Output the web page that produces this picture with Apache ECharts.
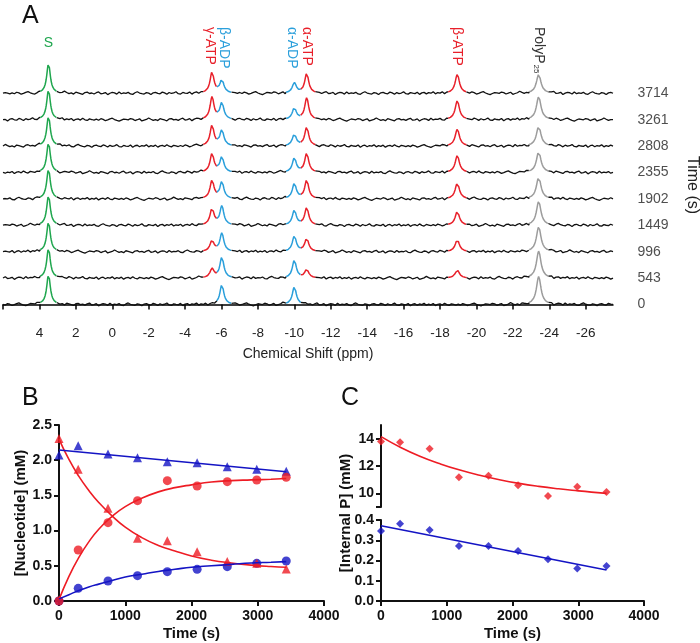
<!DOCTYPE html>
<html><head><meta charset="utf-8">
<script src="https://cdn.jsdelivr.net/npm/echarts@6/dist/echarts.min.js"></script>
<style>html,body{margin:0;padding:0;background:#fff}#c{width:700px;height:643px}</style>
</head><body><div id="c"></div>
<script>
// ---------------- Panel A data ----------------
const traceTimes = [0, 543, 996, 1449, 1902, 2355, 2808, 3261, 3714];
const shiftTickLabels = [4, 2, 0, -2, -4, -6, -8, -10, -12, -14, -16, -18, -20, -22, -24, -26];
const peakNames = ['S', 'γ-ATP', 'β-ADP', 'α-ADP', 'α-ATP', 'β-ATP', 'PolyP'];
const peakShifts = [3.5, -5.48, -6.02, -10.0, -10.68, -18.95, -23.42];
const peakHalfWidths = [0.12, 0.13, 0.13, 0.13, 0.13, 0.14, 0.15];
const peakWindows = [[3.95, 3.05], [-5.0, -5.75], [-5.75, -6.55], [-9.55, -10.35], [-10.35, -11.15], [-18.45, -19.45], [-22.9, -23.95]];
// peak heights per trace (bottom trace t=0 first), in picture pixels
const heightS = [30, 30, 30, 30, 30, 30, 30, 30, 30];
const heightGammaATP = [0, 9, 11, 16.7, 18.3, 18.7, 20.7, 22.3, 21];
const heightBetaADP = [20, 21, 18.3, 19, 17, 15.3, 15.7, 16.7, 13.3];
const heightAlphaADP = [18, 18, 15.7, 15, 15.3, 14.3, 11.7, 11.7, 10.3];
const heightAlphaATP = [0, 8.5, 13.3, 17.7, 18.7, 19.3, 19, 21.7, 20];
const heightBetaATP = [0, 8, 12, 14, 16, 17, 17, 19, 19];
const heightPolyP = [28, 27, 25, 24, 22, 21, 20, 23, 19];
// baseline noise pattern estimated from the traces (pixels)
const baselineNoise = [0.4,-0.6,0.9,0.2,-1.1,-0.3,0.7,1.4,0.1,-0.8,-1.5,-0.4,0.6,0.3,-0.2,1.1,0.5,-0.9,-0.1,0.8,-1.3,-0.5,0.2,1.6,0.4,-0.7,0.1,-1.0,0.9,0.3,-0.4,-1.2,0.6,1.0,-0.3,0.2,-0.8,0.5,1.3,-0.6,-0.2,0.7,-1.4,0.0,0.8,0.4,-0.9,1.2,-0.5,0.3,-0.1,0.9,-0.7,-1.1,0.5,1.5,0.2,-0.4,-0.8,0.6,0.1,-1.3,0.4,0.9,-0.2,-0.6,1.1,0.3,-1.0,0.7,-0.3,0.2,1.4,-0.5,-0.9,0.6,0.0,-0.4,1.0,-1.2,0.3,0.8,-0.7,0.5,-0.1,1.2,-0.8,0.4,-0.3,0.9,-1.1,0.2,0.6,-0.5,1.3,-0.2,-0.9,0.7,0.1,-0.6];

// ---------------- Panel B data ----------------
const timesB = [0, 290, 740, 1185, 1635, 2085, 2540, 2985, 3430];
const redTriangles = [2.31, 1.87, 1.316, 0.89, 0.857, 0.70, 0.56, 0.535, 0.455];
const blueTriangles = [2.074, 2.206, 2.088, 2.036, 1.979, 1.965, 1.908, 1.87, 1.842];
const redCircles = [0.0, 0.724, 1.113, 1.425, 1.709, 1.633, 1.695, 1.719, 1.757];
const blueCircles = [0.0, 0.18, 0.284, 0.36, 0.417, 0.45, 0.488, 0.535, 0.568];
const fitBTimes = [0, 150, 300, 450, 600, 800, 1000, 1250, 1500, 1750, 2000, 2300, 2600, 2900, 3200, 3430];
const fitRedDecay = [2.30, 2.01, 1.77, 1.57, 1.40, 1.21, 1.05, 0.90, 0.79, 0.71, 0.64, 0.58, 0.54, 0.51, 0.49, 0.48];
const fitRedRise = [0.02, 0.35, 0.62, 0.84, 1.02, 1.20, 1.34, 1.46, 1.55, 1.61, 1.65, 1.69, 1.71, 1.72, 1.73, 1.74];
const fitBlueRise = [0.03, 0.09, 0.15, 0.20, 0.24, 0.29, 0.34, 0.38, 0.42, 0.45, 0.48, 0.50, 0.52, 0.54, 0.55, 0.56];
const fitBlueLineTimes = [0, 3430];
const fitBlueLine = [2.145, 1.837];

// ---------------- Panel C data ----------------
const timesC = [0, 290, 740, 1185, 1635, 2085, 2540, 2985, 3430];
const internalPRed = [13.80, 13.73, 13.26, 11.18, 11.28, 10.59, 9.80, 10.49, 10.10];
const internalPBlue = [0.346, 0.382, 0.351, 0.272, 0.272, 0.247, 0.206, 0.160, 0.173];
const fitCTimes = [0, 300, 600, 900, 1200, 1500, 1800, 2100, 2400, 2700, 3000, 3200, 3430];
const fitCRed = [14.15, 13.36, 12.70, 12.16, 11.70, 11.32, 11.00, 10.73, 10.51, 10.33, 10.18, 10.09, 10.00];
const fitCBlueTimes = [0, 3430];
const fitCBlue = [0.372, 0.153];

// ---------------- styling ----------------
const RED = '#e8202a', BLUE_L = '#2a9fdb', GREEN = '#1fa64e', GRAY = '#9c9c9c', BLK = '#111';
const MBLUE = '#1414c4', MRED = '#ee1c24';
const FONT = "Arial, 'Liberation Sans', sans-serif";
const peakColors = [GREEN, RED, BLUE_L, BLUE_L, RED, RED, GRAY];
const heights = [heightS, heightGammaATP, heightBetaADP, heightAlphaADP, heightAlphaATP, heightBetaATP, heightPolyP];
const SPACING = 26.4, X_MAX = 6, X_MIN = -27.5, STEP = 0.125, FINE = 0.02;

function signal(i, x) {
  let s = 0;
  for (let p = 0; p < peakShifts.length; p++) {
    const d = (x - peakShifts[p]) / peakHalfWidths[p];
    s += heights[p][i] / (1 + d * d);
  }
  return s;
}

const blackData = [];
const colorData = {};
[GREEN, RED, BLUE_L, GRAY].forEach(c => colorData[c] = []);
const nGrid = Math.round((X_MAX - X_MIN) / STEP);
traceTimes.forEach((t, i) => {
  const off = i * SPACING;
  const active = [];
  peakWindows.forEach((w, p) => { if (heights[p][i] > 0) active.push([w[0], w[1], p]); });
  active.sort((a, b) => b[0] - a[0]);
  const uni = [];
  active.forEach(a => {
    const last = uni[uni.length - 1];
    if (last && a[0] >= last[1] - 1e-9) last[1] = Math.min(last[1], a[1]);
    else uni.push([a[0], a[1]]);
  });
  const segs = [];
  let start = X_MAX;
  uni.forEach(u => { segs.push([start, u[0]]); start = u[1]; });
  segs.push([start, X_MIN]);
  segs.forEach(sg => {
    const [a, b] = sg;
    blackData.push([a, off + signal(i, a)]);
    for (let k = 0; k <= nGrid; k++) {
      const x = X_MAX - k * STEP;
      if (x < a - 1e-9 && x > b + 1e-9) {
        const n = baselineNoise[(k + 37 * i) % baselineNoise.length];
        blackData.push([x, off + n + signal(i, x)]);
      }
    }
    blackData.push([b, off + signal(i, b)]);
    blackData.push([b, '-']);
  });
  active.forEach(a => {
    const [hi, lo, p] = a;
    const arr = colorData[peakColors[p]];
    const n = Math.round((hi - lo) / FINE);
    for (let k = 0; k <= n; k++) {
      const x = hi - (hi - lo) * k / n;
      arr.push([x, off + signal(i, x)]);
    }
    arr.push([lo, '-']);
  });
});

const zip = (xs, ys) => xs.map((x, i) => [x, ys[i]]);

const axisCommon = {
  axisLine: { show: true, lineStyle: { color: BLK, width: 2 } },
  axisTick: { show: true, inside: false, length: 5, lineStyle: { color: BLK, width: 2 } },
  axisLabel: { color: BLK, fontWeight: 'bold', fontSize: 14, fontFamily: FONT, margin: 7 },
  splitLine: { show: false }
};
const nameStyle = { color: BLK, fontWeight: 'bold', fontSize: 15, fontFamily: FONT };
const timeLabel = Object.assign({}, axisCommon.axisLabel, { margin: 8, formatter: v => String(v) });

const chart = echarts.init(document.getElementById('c'), null, { renderer: 'canvas' });
const option = {
  animation: false,
  backgroundColor: '#fff',
  grid: [
    { left: 3, top: 60, width: 610, height: 259 },
    { left: 59, top: 425, width: 265, height: 176 },
    { left: 381, top: 425, width: 263, height: 82 },
    { left: 381, top: 520, width: 263, height: 81 }
  ],
  xAxis: [
    { gridIndex: 0, type: 'value', inverse: true, min: X_MIN, max: X_MAX,
      axisLine: { show: true, lineStyle: { color: '#000', width: 1.5 } },
      axisTick: { show: true, inside: false, length: 5, lineStyle: { color: '#000', width: 1.5 },
        customValues: [6].concat(shiftTickLabels) },
      axisLabel: { customValues: shiftTickLabels, color: '#222', fontSize: 13.5, fontFamily: FONT, margin: 7 },
      splitLine: { show: false },
      name: 'Chemical Shift (ppm)', nameLocation: 'middle', nameGap: 28,
      nameTextStyle: { color: '#222', fontSize: 14, fontFamily: FONT } },
    Object.assign({ gridIndex: 1, type: 'value', min: 0, max: 4000, interval: 1000,
      name: 'Time (s)', nameLocation: 'middle', nameGap: 25, nameTextStyle: nameStyle }, axisCommon,
      { axisLabel: timeLabel }),
    { gridIndex: 2, type: 'value', min: 0, max: 4000, show: false },
    Object.assign({ gridIndex: 3, type: 'value', min: 0, max: 4000, interval: 1000,
      name: 'Time (s)', nameLocation: 'middle', nameGap: 25, nameTextStyle: nameStyle }, axisCommon,
      { axisLabel: timeLabel })
  ],
  yAxis: [
    { gridIndex: 0, type: 'value', min: -14.5, max: 244.5, show: false },
    Object.assign({ gridIndex: 1, type: 'value', min: 0, max: 2.5, interval: 0.5,
      name: '[Nucleotide] (mM)', nameLocation: 'middle', nameGap: 30, nameTextStyle: nameStyle }, axisCommon,
      { axisLabel: Object.assign({}, axisCommon.axisLabel, { formatter: v => v.toFixed(1) }) }),
    Object.assign({ gridIndex: 2, type: 'value', min: 9, max: 15 }, axisCommon,
      { axisTick: Object.assign({}, axisCommon.axisTick, { customValues: [9, 10, 12, 14] }),
        axisLabel: Object.assign({}, axisCommon.axisLabel, { customValues: [10, 12, 14] }) }),
    Object.assign({ gridIndex: 3, type: 'value', min: 0, max: 0.4, interval: 0.1 }, axisCommon,
      { axisLabel: Object.assign({}, axisCommon.axisLabel, { formatter: v => v.toFixed(1) }) })
  ],
  series: [
    { type: 'line', xAxisIndex: 0, yAxisIndex: 0, data: blackData, showSymbol: false, connectNulls: false,
      lineStyle: { color: '#111', width: 1.3 }, silent: true, clip: false },
    ...[GREEN, RED, BLUE_L, GRAY].map(c => ({ type: 'line', xAxisIndex: 0, yAxisIndex: 0, data: colorData[c],
      showSymbol: false, connectNulls: false, lineStyle: { color: c, width: 1.5 }, silent: true, clip: false })),
    { type: 'scatter', xAxisIndex: 0, yAxisIndex: 0, clip: false, silent: true,
      data: traceTimes.map((t, i) => [X_MIN, i * SPACING, t]), symbolSize: 1, itemStyle: { color: 'transparent' },
      label: { show: true, position: 'right', distance: 24, formatter: p => String(p.data[2]),
        color: '#222', fontSize: 14, fontFamily: FONT } },
    { type: 'line', xAxisIndex: 1, yAxisIndex: 1, data: zip(fitBTimes, fitRedDecay), smooth: true, showSymbol: false, lineStyle: { color: MRED, width: 1.6 } },
    { type: 'line', xAxisIndex: 1, yAxisIndex: 1, data: zip(fitBTimes, fitRedRise), smooth: true, showSymbol: false, lineStyle: { color: MRED, width: 1.6 } },
    { type: 'line', xAxisIndex: 1, yAxisIndex: 1, data: zip(fitBTimes, fitBlueRise), smooth: true, showSymbol: false, lineStyle: { color: MBLUE, width: 1.6 } },
    { type: 'line', xAxisIndex: 1, yAxisIndex: 1, data: zip(fitBlueLineTimes, fitBlueLine), showSymbol: false, lineStyle: { color: MBLUE, width: 1.6 } },
    { type: 'scatter', xAxisIndex: 1, yAxisIndex: 1, clip: false, data: zip(timesB, blueTriangles), symbol: 'triangle', symbolSize: 9, itemStyle: { color: MBLUE } },
    { type: 'scatter', xAxisIndex: 1, yAxisIndex: 1, clip: false, data: zip(timesB, blueCircles), symbol: 'circle', symbolSize: 9, itemStyle: { color: MBLUE } },
    { type: 'scatter', xAxisIndex: 1, yAxisIndex: 1, clip: false, data: zip(timesB, redTriangles), symbol: 'triangle', symbolSize: 9, itemStyle: { color: MRED } },
    { type: 'scatter', xAxisIndex: 1, yAxisIndex: 1, clip: false, data: zip(timesB, redCircles), symbol: 'circle', symbolSize: 9, itemStyle: { color: MRED } },
    { type: 'line', xAxisIndex: 2, yAxisIndex: 2, data: zip(fitCTimes, fitCRed), smooth: true, showSymbol: false, lineStyle: { color: MRED, width: 1.6 } },
    { type: 'scatter', xAxisIndex: 2, yAxisIndex: 2, clip: false, data: zip(timesC, internalPRed), symbol: 'diamond', symbolSize: 8, itemStyle: { color: MRED } },
    { type: 'line', xAxisIndex: 3, yAxisIndex: 3, data: zip(fitCBlueTimes, fitCBlue), showSymbol: false, lineStyle: { color: MBLUE, width: 1.6 } },
    { type: 'scatter', xAxisIndex: 3, yAxisIndex: 3, clip: false, data: zip(timesC, internalPBlue), symbol: 'diamond', symbolSize: 8, itemStyle: { color: MBLUE } }
  ]
};
chart.setOption(option);

// ---------------- annotations ----------------
const px = ppm => chart.convertToPixel({ xAxisIndex: 0 }, ppm);
const labelDx = [0, -2, 2, -2, 0, 0, 0];
const labelColors = [GREEN, RED, BLUE_L, BLUE_L, RED, RED, '#333'];
const graphics = [
  { type: 'text', x: 22, y: 16, style: { text: 'A', fontSize: 25, fontFamily: FONT, fill: '#111', align: 'left', verticalAlign: 'middle' } },
  { type: 'text', x: 22, y: 398, style: { text: 'B', fontSize: 25, fontFamily: FONT, fill: '#111', align: 'left', verticalAlign: 'middle' } },
  { type: 'text', x: 341, y: 398, style: { text: 'C', fontSize: 25, fontFamily: FONT, fill: '#111', align: 'left', verticalAlign: 'middle' } },
  { type: 'text', x: 692, y: 156, rotation: -Math.PI / 2,
    style: { text: 'Time (s)', fontSize: 16, fontFamily: FONT, fill: '#222', align: 'left', verticalAlign: 'middle' } },
  { type: 'text', x: 346, y: 513, rotation: Math.PI / 2,
    style: { text: '[Internal P] (mM)', fontSize: 15, fontWeight: 'bold', fontFamily: FONT, fill: BLK, align: 'center', verticalAlign: 'middle' } },
  { type: 'text', x: px(peakShifts[0]), y: 43,
    style: { text: peakNames[0], fontSize: 14, fontFamily: FONT, fill: GREEN, align: 'center', verticalAlign: 'middle' } }
];
for (let p = 1; p < peakNames.length; p++) {
  const isPoly = peakNames[p] === 'PolyP';
  graphics.push({
    type: 'text', x: px(peakShifts[p]) + labelDx[p], y: 27, rotation: -Math.PI / 2,
    style: isPoly ? {
      text: '{a|PolyP}{b|25}', align: 'left', verticalAlign: 'middle', fontFamily: FONT,
      rich: { a: { fontSize: 14, fontFamily: FONT, fill: labelColors[p] },
              b: { fontSize: 8, fontFamily: FONT, fill: labelColors[p], verticalAlign: 'bottom', padding: [6, 0, 0, 1] } }
    } : { text: peakNames[p], fontSize: 14, fontFamily: FONT, fill: labelColors[p], align: 'left', verticalAlign: 'middle' }
  });
}
chart.setOption({ graphic: graphics });
</script>
</body></html>
